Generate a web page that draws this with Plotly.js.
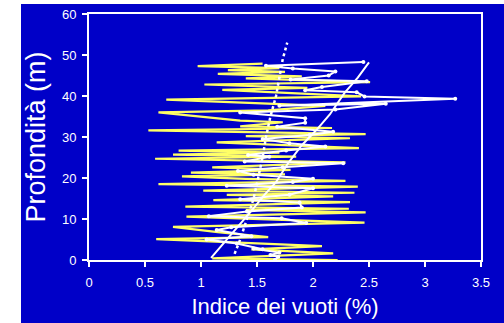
<!DOCTYPE html>
<html><head><meta charset="utf-8">
<script src="https://cdn.plot.ly/plotly-3.0.1.min.js"></script>
<style>
html,body{margin:0;padding:0;background:#fff;width:504px;height:323px;overflow:hidden;}
#chart{position:absolute;left:21px;top:4px;width:483px;height:319px;}
</style></head><body>
<div id="chart"></div>
<script>
// Yellow zig-zag series
const yellowX = [2.22,1.10,2.18,1.45,2.08,1.40,0.60,1.60,1.15,0.75,2.46,0.87,2.47,1.40,2.32,0.86,2.33,1.11,2.18,1.23,2.37,1.02,2.40,0.62,2.29,1.40,0.83,1.75,0.91,1.80,1.10,2.29,0.59,1.85,0.75,1.70,0.80,2.41,1.14,2.33,1.40,2.47,0.53,2.17,1.35,1.73,1.35,0.62,1.60,2.11,0.69,2.43,1.19,1.95,1.03,2.51,1.40,1.90,1.15,1.75,1.24,1.70,0.97,1.55];
const yellowD = [0.0,0.4,1.6,2.6,3.4,4.2,5.1,5.6,6.8,8.1,9.1,10.6,11.6,12.2,12.5,13.0,14.1,14.6,15.5,15.9,16.4,16.9,17.9,18.5,19.3,19.8,20.4,20.9,21.3,22.0,22.6,23.8,24.7,25.2,25.7,26.2,26.7,27.3,28.7,29.7,30.2,30.7,31.6,32.2,32.6,33.6,34.0,36.0,36.5,37.6,39.1,39.9,41.5,42.0,42.8,43.4,44.3,44.8,45.4,45.9,46.3,46.8,47.3,47.9];
// White series with markers
const whiteX = [1.66,1.69,1.62,1.70,1.47,1.55,1.32,1.05,1.45,1.14,1.27,1.94,1.72,1.07,1.41,1.90,1.88,1.35,1.79,2.00,1.23,1.82,2.00,1.47,1.33,1.73,2.27,1.39,1.61,1.42,1.76,2.11,1.79,1.55,1.97,2.18,1.68,1.93,1.93,1.35,2.20,2.65,1.70,3.27,2.46,2.39,1.93,2.08,2.48,1.80,2.14,2.20,1.82,1.58,2.45];
const whiteD = [0.0,0.8,1.2,1.8,2.8,2.6,4.0,5.0,5.8,7.3,8.0,9.0,10.2,10.7,11.8,12.8,14.0,14.8,15.9,17.5,18.1,19.0,19.8,20.8,21.7,22.6,23.6,24.0,25.2,25.6,26.7,27.7,28.5,29.5,30.5,31.3,32.5,33.5,34.6,36.0,36.7,38.1,37.6,39.3,39.9,40.9,41.4,42.2,43.6,44.0,45.0,46.0,46.7,47.4,48.3];
// Trend line
const trendX = [1.09,1.20,1.33,1.45,1.57,1.67,1.78,1.90,2.03,2.15,2.28,2.40,2.50];
const trendD = [0.5,4,8,12,16,19,23.7,28,31.7,35.5,40.7,44.5,48.2];
// Dotted line
const dotX = [1.30,1.35,1.41,1.47,1.51,1.55,1.58,1.62,1.67,1.70,1.73,1.77];
const dotD = [1.5,5,10,15,20,25,30,35,40,45,49,53];

const xTicks = [0,0.5,1,1.5,2,2.5,3,3.5];
const xTickText = ['0','0.5','1','1.5','2','2.5','3','3.5'];
const yTicks = [0,10,20,30,40,50,60];

const traces = [
  {x: yellowX, y: yellowD, mode:'lines', line:{color:'#ffff66', width:2.2}, hoverinfo:'skip'},
  {x: whiteX, y: whiteD, mode:'lines+markers', line:{color:'#ffffff', width:2}, marker:{color:'#ffffff', size:4}, hoverinfo:'skip'},
  {x: trendX, y: trendD, mode:'lines', line:{color:'#ffffff', width:2}, hoverinfo:'skip'},
  {x: dotX, y: dotD, mode:'lines', line:{color:'#ffffff', width:2.5, dash:'dot'}, hoverinfo:'skip'}
];

const layout = {
  width: 483, height: 319,
  margin: {l:68, r:23, t:10, b:63},
  paper_bgcolor: '#0000c8',
  plot_bgcolor: '#0000c8',
  showlegend: false,
  font: {family:'Liberation Sans, Arial, sans-serif', color:'#ffffff'},
  xaxis: {
    range:[0,3.5], tickvals:xTicks, ticktext:xTickText,
    showgrid:false, zeroline:false,
    showline:true, linecolor:'#ffffff', linewidth:2, mirror:true,
    ticks:'outside', ticklen:5, tickwidth:1.5, tickcolor:'#ffffff',
    ticklabelstandoff:4,
    tickfont:{size:13, color:'#ffffff'},
    title:{text:'Indice dei vuoti (%)', font:{size:22, color:'#ffffff'}, standoff:10}
  },
  yaxis: {
    range:[0,60], tickvals:yTicks,
    showgrid:false, zeroline:false,
    showline:true, linecolor:'#ffffff', linewidth:2, mirror:true,
    ticks:'outside', ticklen:5, tickwidth:1.5, tickcolor:'#ffffff',
    ticklabelstandoff:3,
    tickfont:{size:13, color:'#ffffff'},
    title:{text:'Profondità (m)', font:{size:27, color:'#ffffff'}, standoff:10}
  }
};

Plotly.newPlot('chart', traces, layout, {displayModeBar:false, staticPlot:true});
</script>
</body></html>
